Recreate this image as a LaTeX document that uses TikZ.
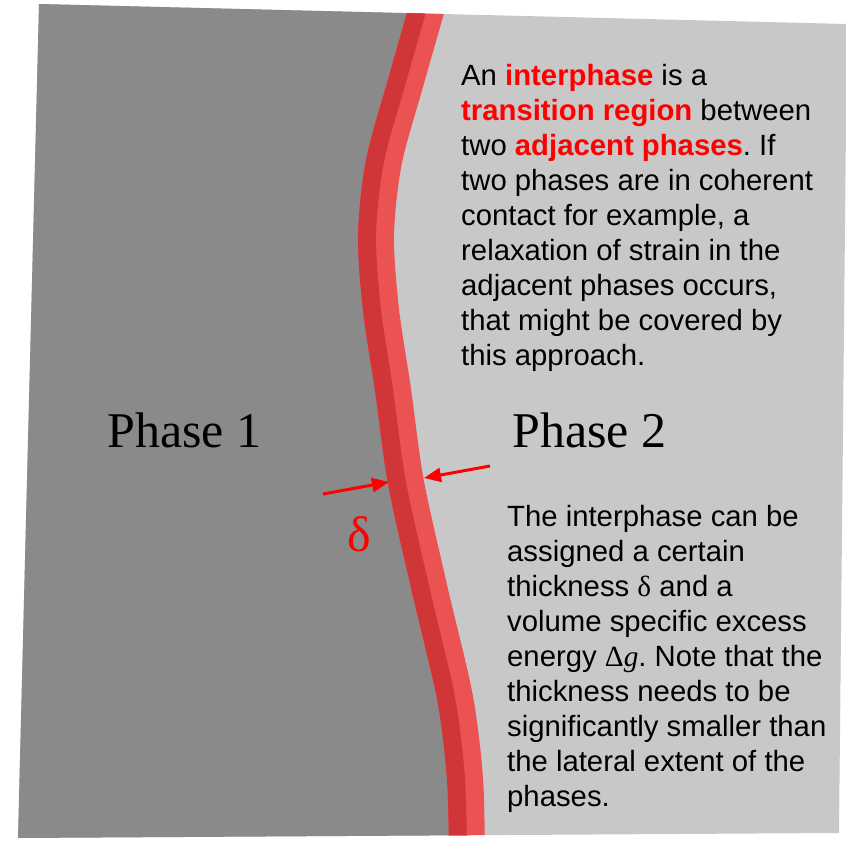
\documentclass[tikz,border=0pt]{standalone}
\usepackage{fontspec}
\setmainfont{Liberation Sans}
\newfontfamily\phasefont{Liberation Serif}
\usetikzlibrary{arrows.meta}
\definecolor{phaseone}{RGB}{138,138,138}
\definecolor{phasetwo}{RGB}{200,200,200}
\definecolor{bandlight}{RGB}{235,82,82}
\definecolor{banddark}{RGB}{208,53,56}
\definecolor{hilite}{RGB}{255,0,0}
\newcommand{\hl}[1]{\textcolor{hilite}{\textbf{#1}}}
\frenchspacing

\begin{document}
\begin{tikzpicture}[x=1pt, y=-1pt,
  txt/.style={anchor=base west, align=left, inner sep=0pt,
              font=\fontsize{29.3}{35}\selectfont},
  lbl/.style={anchor=base west, inner sep=0pt,
              font=\phasefont\fontsize{50}{60}\selectfont},
  dim/.style={-{Triangle[length=17pt,width=14pt]}, hilite, line width=3pt}]
\useasboundingbox (0,0) rectangle (846,842);
% the two phases and the interphase band
\begin{scope}
  \clip (39,4) -- (847,24) -- (839,833) -- (18,838) -- cycle;
  \fill[phasetwo] (0,0) rectangle (846,842);
  \fill[phaseone] (0,-10) -- plot[smooth] coordinates {(432,-10) (406,81) (384,161) (376,235) (381,310) (393,390) (406,483) (430,591) (455,698) (465,779) (467,860)} -- (0,860) -- cycle;
  \draw[bandlight, line width=36pt] plot[smooth] coordinates {(432,-10) (406,81) (384,161) (376,235) (381,310) (393,390) (406,483) (430,591) (455,698) (465,779) (467,860)};
  \draw[banddark, line width=18pt, xshift=-9pt] plot[smooth] coordinates {(432,-10) (406,81) (384,161) (376,235) (381,310) (393,390) (406,483) (430,591) (455,698) (465,779) (467,860)};
\end{scope}
\node[lbl] (p1) at (107,447) {Phase 1};
\node[lbl] (p2) at (512,447) {Phase 2};
% thickness arrows
\coordinate (lt) at (323,494); \coordinate (lh) at (389,482);
\coordinate (rt) at (490,466); \coordinate (rh) at (424,478);
\draw[dim] (lt) -- (lh);
\draw[dim] (rt) -- (rh);
\node[lbl, text=hilite] (delta) at (347,551) {δ};
% base anchor sits on the last line
\node[txt] (top) at (461,365) {An \hl{interphase} is a\\
  \hl{transition region} between\\
  two \hl{adjacent phases}. If\\
  two phases are in coherent\\
  contact for example, a\\
  relaxation of strain in the\\
  adjacent phases occurs,\\
  that might be covered by\\
  this approach.};
\node[txt] (bot) at (507,806) {The interphase can be\\
  assigned a certain\\
  thickness {\phasefont δ} and a\\
  volume specific excess\\
  energy {\phasefont Δ\textit{g}}. Note that the\\
  thickness needs to be\\
  significantly smaller than\\
  the lateral extent of the\\
  phases.};
\end{tikzpicture}
\end{document}
